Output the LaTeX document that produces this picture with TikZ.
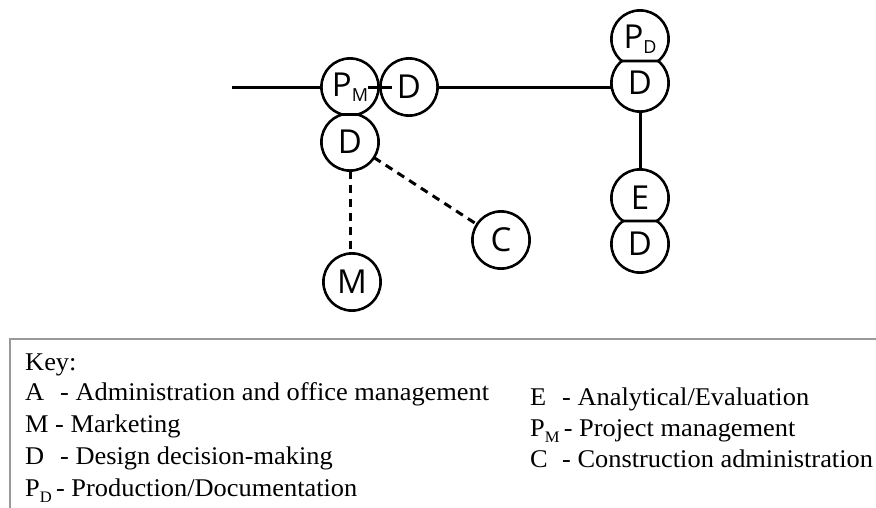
\documentclass[tikz,border=0pt]{standalone}
\usepackage{fontspec}
\setmainfont{Liberation Serif}
\newfontfamily\bubfont{Open Sans}
\newfontfamily\keyfont[FakeStretch=1.035]{Liberation Serif}
\usetikzlibrary{intersections}
\pgfdeclarelayer{under}
\pgfsetlayers{under,main}

\tikzset{
  bub/.style={circle, minimum size=57pt, inner sep=0pt, outer sep=0pt,
    font=\bubfont\fontsize{33}{33}\selectfont},
  ring/.style={line width=2.8pt},
  link/.style={line width=3pt},
  dlink/.style={line width=3pt, dash pattern=on 8pt off 6pt},
  keyline/.style={anchor=base west, inner sep=0pt,
    font=\keyfont\fontsize{25.5}{25.5}\selectfont},
  keyframe/.style={draw=black!40, line width=1.6pt},
}
% lowered small letter inside a bubble
\newcommand\subtag[1]{\raisebox{-5pt}{\fontsize{18}{18}\selectfont #1}}
% lowered small letter in the key
\newcommand\keysub[1]{\raisebox{-6pt}{\fontsize{16}{16}\selectfont #1}}

\begin{document}
\begin{tikzpicture}[x=1pt,y=-1pt]
\useasboundingbox (0,0) rectangle (876,507);
\clip (0,0) rectangle (876,507);

% activity bubbles
\node[bub] (pm) at (350,87)  {P\subtag{M}};
\node[bub] (d1) at (409,87)  {D};
\node[bub] (d2) at (350,142) {D};
\node[bub] (m)  at (352,282) {M};
\node[bub] (c)  at (501,240) {C};
\node[bub] (pd) at (640,39)  {P\subtag{D}};
\node[bub] (d3) at (640,83)  {D};
\node[bub] (e)  at (640,198) {E};
\node[bub] (d4) at (640,244) {D};

\coordinate (lstart) at (232,87);

\begin{pgfonlayer}{under}
  % connectors
  \draw[link] (lstart) -- (pm);
  \draw[link] (d1) -- (d1 -| d3.west);
  \draw[link] (d3) -- (e);
  \draw[dlink] (d2) -- (c);
  \draw[dlink] (d2.south) -- (d2.south |- m.north);
  % bubble outlines, then blank interiors so touching bubbles merge
  \foreach \n in {pm,d1,d2,m,c,pd,d3,e,d4}
    \draw[ring] (\n.center) circle[radius=28.5pt];
  \foreach \n in {pm,d1,d2,m,c,pd,d3,e,d4}
    \fill[white] (\n.center) circle[radius=27.1pt];
  % chords where bubbles overlap
  \foreach \a/\b in {pd/d3, e/d4, pm/d2}{
    \path[name path=ra] (\a.center) circle[radius=28.5pt];
    \path[name path=rb] (\b.center) circle[radius=28.5pt];
    \draw[ring, name intersections={of=ra and rb}] (intersection-1) -- (intersection-2);
  }
  % short tie between P_M and D
  \draw[link] ([xshift=18pt]pm.center) -- ([xshift=-17pt]d1.center);
\end{pgfonlayer}

% key
\coordinate (keytl) at (10,339);
\draw[keyframe] (keytl) rectangle (890,520);
\node[keyline] (kh)  at (25,370)  {Key:};
\node[keyline] (ka)  at (25,400)  {\makebox[35pt][l]{A}- Administration and office management};
\node[keyline] (km)  at (25,432)  {M - Marketing};
\node[keyline] (kd)  at (25,464)  {\makebox[35pt][l]{D}- Design decision-making};
\node[keyline] (kp)  at (25,496)  {P\keysub{D}\,- Production/Documentation};
\node[keyline] (ke)  at (530,405) {\makebox[32pt][l]{E}- Analytical/Evaluation};
\node[keyline] (kpm) at (530,436) {P\keysub{M}\,- Project management};
\node[keyline] (kc)  at (530,467) {\makebox[32pt][l]{C}- Construction administration};
\end{tikzpicture}
\end{document}
